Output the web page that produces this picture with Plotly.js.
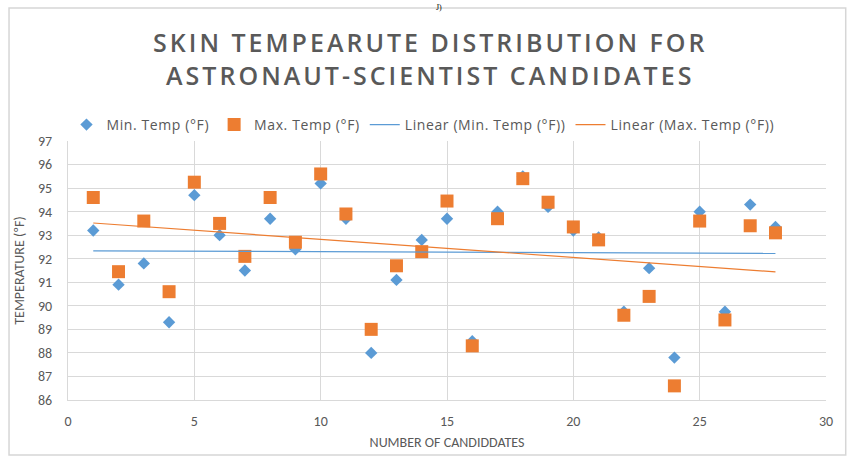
<!DOCTYPE html>
<html>
<head>
<meta charset="utf-8">
<script src="https://cdn.plot.ly/plotly-3.0.1.min.js"></script>
<style>
html,body{margin:0;padding:0;background:#fff;}
#chart{width:847px;height:456px;}
.gtitle{letter-spacing:3px;}
.legendtext{letter-spacing:0.6px;}
</style>
</head>
<body>
<div id="chart"></div>
<script>
const candidates = [1,2,3,4,5,6,7,8,9,10,11,12,13,14,15,16,17,18,19,20,21,22,23,24,25,26,27,28];
const minTemp = [93.2,90.9,91.8,89.3,94.7,93.0,91.5,93.7,92.4,95.2,93.7,88.0,91.1,92.8,93.7,88.5,94.0,95.5,94.2,93.2,92.9,89.75,91.6,87.8,94.0,89.75,94.3,93.35];
const maxTemp = [94.6,91.45,93.6,90.6,95.25,93.5,92.1,94.6,92.7,95.6,93.9,89.0,91.7,92.3,94.45,88.3,93.7,95.4,94.4,93.35,92.8,89.6,90.4,86.6,93.6,89.4,93.4,93.1];
const xTicks = [0,5,10,15,20,25,30];
const yTicks = [86,87,88,89,90,91,92,93,94,95,96,97];

function linFit(xs, ys){
  const n = xs.length;
  let sx=0, sy=0, sxx=0, sxy=0;
  for(let i=0;i<n;i++){sx+=xs[i];sy+=ys[i];sxx+=xs[i]*xs[i];sxy+=xs[i]*ys[i];}
  const b = (n*sxy - sx*sy)/(n*sxx - sx*sx);
  const a = (sy - b*sx)/n;
  const x0 = xs[0], x1 = xs[n-1];
  return {x:[x0,x1], y:[a+b*x0, a+b*x1]};
}
const fMin = linFit(candidates, minTemp);
const fMax = linFit(candidates, maxTemp);

const gray = '#595959';
const font = 'Calibri, Carlito, "Liberation Sans Narrow", "Open Sans", sans-serif';

const traces = [
  {x:candidates, y:minTemp, type:'scatter', mode:'markers', name:'Min. Temp (°F)',
   marker:{symbol:'diamond', size:9.5, color:'#5B9BD5'}},
  {x:candidates, y:maxTemp, type:'scatter', mode:'markers', name:'Max. Temp (°F)',
   marker:{symbol:'square', size:13, color:'#ED7D31'}},
  {x:fMin.x, y:fMin.y, type:'scatter', mode:'lines', name:'Linear (Min. Temp (°F))',
   line:{color:'#5B9BD5', width:1.2}},
  {x:fMax.x, y:fMax.y, type:'scatter', mode:'lines', name:'Linear (Max. Temp (°F))',
   line:{color:'#ED7D31', width:1.2}}
];

const layout = {
  width:847, height:456,
  margin:{l:68, r:21, t:141, b:56},
  paper_bgcolor:'#fff', plot_bgcolor:'#fff',
  font:{family:font, color:gray, size:14},
  title:{text:'SKIN TEMPEARUTE DISTRIBUTION FOR<br>ASTRONAUT-SCIENTIST CANDIDATES',
    x:0.508, xanchor:'center', y:0.885, yanchor:'top',
    font:{family:'"Open Sans", sans-serif', size:25, color:gray, weight:600}},
  showlegend:true,
  legend:{orientation:'h', x:-0.002, xanchor:'left', y:1.0, yanchor:'bottom',
    font:{family:'"Open Sans", sans-serif', size:14, color:gray}, itemwidth:30},
  xaxis:{range:[0,30], tickvals:xTicks, ticktext:xTicks.map(String),
    showgrid:true, gridcolor:'#d9d9d9', gridwidth:1, zeroline:false,
    showline:true, linecolor:'#d9d9d9', ticks:'', ticklabelstandoff:8,
    tickfont:{size:14, color:gray},
    title:{text:'NUMBER OF CANDIDDATES', font:{size:14, color:gray}, standoff:8}},
  yaxis:{range:[86,97], tickvals:yTicks, ticktext:yTicks.map(String),
    showgrid:true, gridcolor:'#d9d9d9', gridwidth:1, zeroline:false,
    showline:true, linecolor:'#d9d9d9', ticks:'', ticklabelstandoff:12,
    tickfont:{size:14, color:gray},
    title:{text:'TEMPERATURE (ºF)', font:{size:14, color:gray}, standoff:10}},
  shapes:[
    {type:'rect', xref:'paper', yref:'paper', x0:-0.0778, x1:1.026, y0:-0.212, y1:1.5135,
     line:{color:'#d6d6d6', width:1.5}}
  ],
  annotations:[
    {text:'J)', xref:'paper', yref:'paper', x:0.49, y:1.5405, yanchor:'top', showarrow:false,
     font:{family:'"Liberation Serif", serif', size:8, color:'#000'}}
  ]
};

Plotly.newPlot('chart', traces, layout, {displayModeBar:false, staticPlot:true});
</script>
</body>
</html>
